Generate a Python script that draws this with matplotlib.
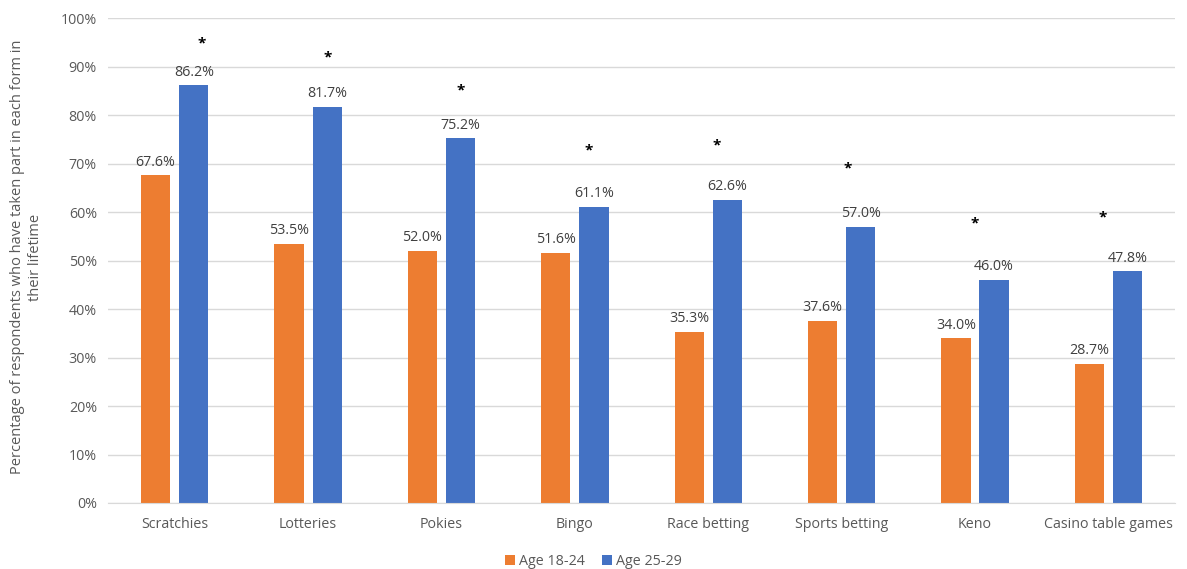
import numpy as np
import matplotlib.pyplot as plt
from matplotlib.ticker import FuncFormatter

categories = ["Scratchies", "Lotteries", "Pokies", "Bingo", "Race betting",
              "Sports betting", "Keno", "Casino table games"]
age_18_24 = [67.6, 53.5, 52.0, 51.6, 35.3, 37.6, 34.0, 28.7]
age_25_29 = [86.2, 81.7, 75.2, 61.1, 62.6, 57.0, 46.0, 47.8]
# asterisk marks (significance), height in % and shift from category centre
star_y = [94.8, 91.8, 85.0, 72.8, 73.8, 68.9, 57.7, 58.8]
star_dx = [0.20, 0.15, 0.146, 0.105, 0.06, 0.045, 0.0, -0.04]

orange = "#ED7D31"
blue = "#4472C4"
grey = "#595959"

plt.rcParams["font.family"] = ["Open Sans", "DejaVu Sans"]

fig = plt.figure(figsize=(11.87, 5.69), dpi=100)
ax = fig.add_axes([0.091, 0.116, 0.899, 0.852])

x = np.arange(len(categories))
w = 0.22
off = 0.143
b1 = ax.bar(x - off, age_18_24, w, color=orange, label="Age 18-24", zorder=2)
b2 = ax.bar(x + off, age_25_29, w, color=blue, label="Age 25-29", zorder=2)

for bars, vals in [(b1, age_18_24), (b2, age_25_29)]:
    for r, v in zip(bars, vals):
        ax.annotate(f"{v:.1f}%", (r.get_x() + r.get_width() / 2, v),
                    xytext=(0, 4), textcoords="offset points",
                    ha="center", va="bottom", fontsize=10.3, color="#404040")

for i in range(len(categories)):
    ax.text(x[i] + star_dx[i], star_y[i], "*", ha="center", va="center",
            fontsize=11, color="black", fontweight="bold")

ax.set_xlim(-0.5, len(categories) - 0.5)
ax.set_ylim(0, 100)
ax.set_yticks(np.arange(0, 101, 10))
ax.yaxis.set_major_formatter(FuncFormatter(lambda v, p: f"{v:.0f}%"))
ax.set_xticks(x)
ax.set_xticklabels(categories)
ax.tick_params(axis="both", length=0, labelsize=10.3, labelcolor=grey)
ax.tick_params(axis="x", pad=10)
ax.tick_params(axis="y", pad=8)
ax.grid(axis="y", color="#D9D9D9", linewidth=1, zorder=0)
for s in ["top", "right", "left"]:
    ax.spines[s].set_visible(False)
ax.spines["bottom"].set_color("#D9D9D9")

ax.set_ylabel("Percentage of respondents who have taken part in each form in\ntheir lifetime",
              fontsize=10.5, color=grey, linespacing=1.25)
ax.yaxis.set_label_coords(-0.061, 0.507)

fig.legend(handles=[b1, b2], loc="lower center", ncol=2, frameon=False,
           fontsize=10.3, labelcolor=grey, handlelength=0.7, handleheight=0.7,
           handletextpad=0.3, columnspacing=1.2, bbox_to_anchor=(0.5, -0.022))

fig.savefig("out.png", dpi=100)
